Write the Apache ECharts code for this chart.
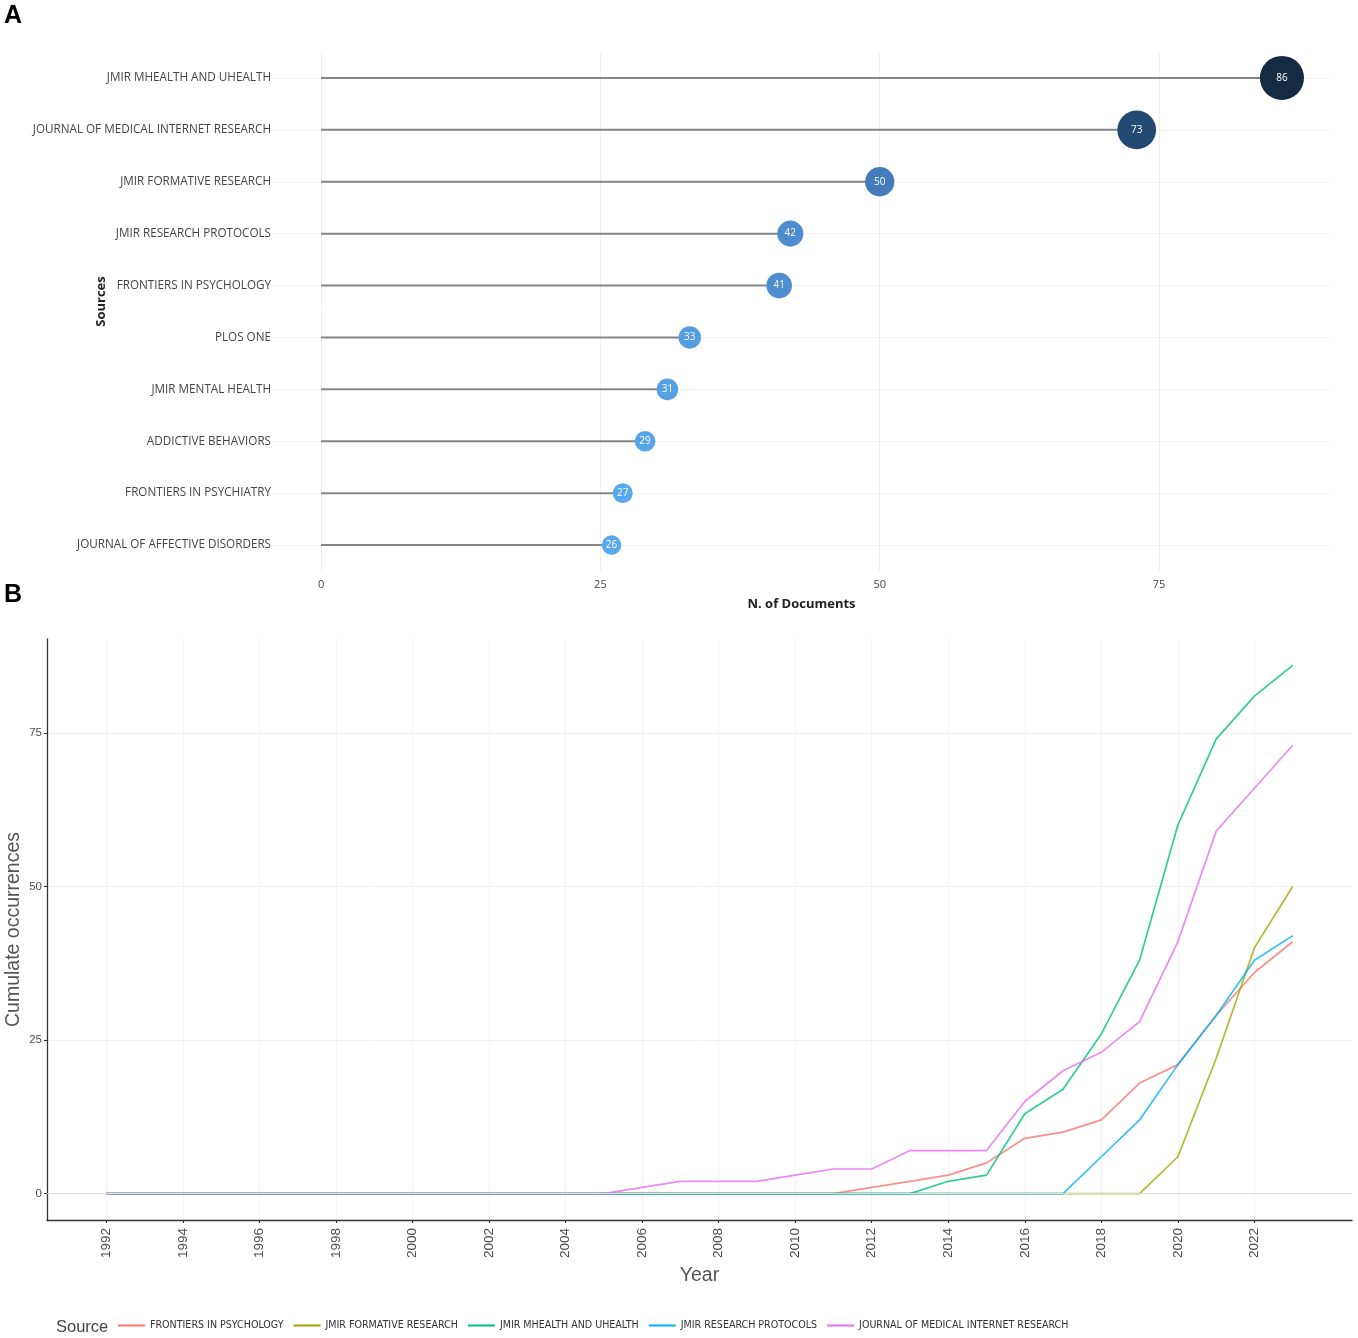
<!DOCTYPE html>
<html lang="en">
<head>
    <meta charset="UTF-8">
    <title>Sources</title>
    <script src="https://cdn.jsdelivr.net/npm/echarts@6/dist/echarts.min.js"></script>
    <style>
        html, body {margin: 0; padding: 0; background: #fff;}
        #main {width: 1358px; height: 1338px;}
    </style>
</head>
<body>
<div id="main"></div>
<script>
    // A: most relevant sources
    const sources = ['JMIR MHEALTH AND UHEALTH', 'JOURNAL OF MEDICAL INTERNET RESEARCH', 'JMIR FORMATIVE RESEARCH',
        'JMIR RESEARCH PROTOCOLS', 'FRONTIERS IN PSYCHOLOGY', 'PLOS ONE', 'JMIR MENTAL HEALTH',
        'ADDICTIVE BEHAVIORS', 'FRONTIERS IN PSYCHIATRY', 'JOURNAL OF AFFECTIVE DISORDERS'];
    const docCounts = [86, 73, 50, 42, 41, 33, 31, 29, 27, 26];
    const docTicks = [0, 25, 50, 75];

    // B: cumulate occurrences per year
    const years = [1992, 1993, 1994, 1995, 1996, 1997, 1998, 1999, 2000, 2001, 2002, 2003, 2004, 2005, 2006, 2007,
        2008, 2009, 2010, 2011, 2012, 2013, 2014, 2015, 2016, 2017, 2018, 2019, 2020, 2021, 2022, 2023];
    const yearTicks = [1992, 1994, 1996, 1998, 2000, 2002, 2004, 2006, 2008, 2010, 2012, 2014, 2016, 2018, 2020, 2022];
    const occTicks = [0, 25, 50, 75];
    const frontiersPsychology = [0, 0, 0, 0, 0, 0, 0, 0, 0, 0, 0, 0, 0, 0, 0, 0, 0, 0, 0, 0, 1, 2, 3, 5, 9, 10, 12, 18, 21, 29, 36, 41];
    const jmirFormative = [0, 0, 0, 0, 0, 0, 0, 0, 0, 0, 0, 0, 0, 0, 0, 0, 0, 0, 0, 0, 0, 0, 0, 0, 0, 0, 0, 0, 6, 22, 40, 50];
    const jmirMhealth = [0, 0, 0, 0, 0, 0, 0, 0, 0, 0, 0, 0, 0, 0, 0, 0, 0, 0, 0, 0, 0, 0, 2, 3, 13, 17, 26, 38, 60, 74, 81, 86];
    const jmirProtocols = [0, 0, 0, 0, 0, 0, 0, 0, 0, 0, 0, 0, 0, 0, 0, 0, 0, 0, 0, 0, 0, 0, 0, 0, 0, 0, 6, 12, 21, 29, 38, 42];
    const jmir = [0, 0, 0, 0, 0, 0, 0, 0, 0, 0, 0, 0, 0, 0, 1, 2, 2, 2, 3, 4, 4, 7, 7, 7, 15, 20, 23, 28, 41, 59, 66, 73];
    const lineNames = ['FRONTIERS IN PSYCHOLOGY', 'JMIR FORMATIVE RESEARCH', 'JMIR MHEALTH AND UHEALTH',
        'JMIR RESEARCH PROTOCOLS', 'JOURNAL OF MEDICAL INTERNET RESEARCH'];
    const lineValues = [frontiersPsychology, jmirFormative, jmirMhealth, jmirProtocols, jmir];
    const lineColors = ['#F8766D', '#A3A500', '#00BF7D', '#00B0F6', '#E76BF3'];

    const chart = echarts.init(document.getElementById('main'), null, {renderer: 'canvas'});

    let lineSeries = [];
    for (let i = 0; i < lineNames.length; i++) {
        lineSeries.push({
            name: lineNames[i],
            type: 'line',
            xAxisIndex: 1,
            yAxisIndex: 1,
            symbol: 'none',
            data: years.map((y, k) => [y, lineValues[i][k]]),
            lineStyle: {color: lineColors[i], width: 1.7, opacity: 0.8},
            itemStyle: {color: lineColors[i]},
            markLine: i === 0 ? {
                silent: true, symbol: 'none', label: {show: false},
                lineStyle: {color: '#dcdcdc', type: 'solid', width: 1.2},
                data: [{yAxis: 0}]
            } : undefined
        });
    }

    const option = {
        animation: false,
        backgroundColor: '#fff',
        textStyle: {fontFamily: 'Liberation Sans'},
        graphic: [
            {type: 'text', left: 4, top: 4, style: {text: 'A', font: 'bold 25px Liberation Sans', fill: '#000'}},
            {type: 'text', left: 4, top: 583, style: {text: 'B', font: 'bold 25px Liberation Sans', fill: '#000'}}
        ],
        title: {
            text: 'Source', left: 51, top: 1314,
            textStyle: {fontSize: 16.5, fontWeight: 'normal', color: '#444', fontFamily: 'Liberation Sans'}
        },
        legend: {
            data: lineNames,
            left: 118, top: 1320, padding: 0,
            icon: 'rect', itemWidth: 27, itemHeight: 2, itemGap: 10,
            textStyle: {fontSize: 10.6, color: '#333', fontFamily: 'DejaVu Sans Condensed'}
        },
        visualMap: {
            show: false, type: 'continuous', seriesIndex: 1, dimension: 0,
            min: 26, max: 86, inRange: {color: ['#5AA9EE', '#4A85C6', '#2C5A8C', '#132B43']}
        },
        grid: [
            {left: 273, right: 28, top: 52, height: 519, outerBoundsMode: 'none'},
            {left: 47, right: 6, top: 639, height: 581, outerBoundsMode: 'none'}
        ],
        xAxis: [
            {
                type: 'value', gridIndex: 0, min: -4.3, max: 90.3,
                name: 'N. of Documents', nameLocation: 'middle', nameGap: 27,
                nameTextStyle: {fontSize: 13, fontWeight: 'bold', color: '#222', fontFamily: 'Open Sans'},
                axisLine: {show: false},
                axisTick: {show: false, customValues: docTicks},
                axisLabel: {customValues: docTicks, color: '#444', fontSize: 11, margin: 8, fontFamily: 'Open Sans'},
                splitLine: {show: true, lineStyle: {color: '#f0f0f0'}}
            },
            {
                type: 'value', gridIndex: 1, min: 1990.45, max: 2024.55,
                name: 'Year', nameLocation: 'middle', nameGap: 46, nameMoveOverlap: false,
                nameTextStyle: {fontSize: 19.5, color: '#555'},
                axisLine: {show: true, onZero: false, lineStyle: {color: '#333', width: 1.3}},
                axisTick: {show: true, length: 3, customValues: yearTicks, lineStyle: {color: '#333'}},
                axisLabel: {
                    customValues: yearTicks, rotate: 90, color: '#4d4d4d', fontSize: 13.5, margin: 8,
                    formatter: v => String(v)
                },
                splitLine: {show: true, lineStyle: {color: '#f3f3f3'}}
            }
        ],
        yAxis: [
            {
                type: 'category', gridIndex: 0, inverse: true, data: sources,
                name: 'Sources', nameLocation: 'middle', nameRotate: 90, nameGap: 165, nameMoveOverlap: false,
                nameTextStyle: {
                    fontSize: 13, fontWeight: 'bold', color: '#222', fontFamily: 'Open Sans',
                    padding: [0, 0, 0, 20]
                },
                axisLine: {show: false, onZero: false},
                axisTick: {show: false, alignWithLabel: true},
                axisLabel: {color: '#444', fontSize: 11.7, margin: 2, fontFamily: 'Open Sans'},
                splitLine: {show: true, alignWithLabel: true, lineStyle: {color: '#f3f3f3'}}
            },
            {
                type: 'value', gridIndex: 1, min: -4.3, max: 90.3,
                name: 'Cumulate occurrences', nameLocation: 'middle', nameRotate: 90, nameGap: 23,
                nameMoveOverlap: false,
                nameTextStyle: {fontSize: 19.5, color: '#555'},
                axisLine: {show: true, onZero: false, lineStyle: {color: '#333', width: 1.3}},
                axisTick: {show: true, length: 3, customValues: occTicks, lineStyle: {color: '#333'}},
                axisLabel: {customValues: occTicks, color: '#4d4d4d', fontSize: 11.5, margin: 5},
                splitLine: {show: true, lineStyle: {color: '#f0f0f0'}}
            }
        ],
        series: [
            {
                // stems
                type: 'bar', xAxisIndex: 0, yAxisIndex: 0, silent: true,
                data: docCounts, barWidth: 2,
                itemStyle: {color: '#858585'}
            },
            {
                type: 'scatter', xAxisIndex: 0, yAxisIndex: 0,
                data: docCounts.map((v, i) => [v, sources[i]]),
                symbolSize: function (d) {
                    return 19.5 + (d[0] - 26) * 0.41;
                },
                itemStyle: {opacity: 1},
                label: {
                    show: true, position: 'inside', color: '#fff', fontSize: 10, fontFamily: 'Open Sans',
                    formatter: p => p.value[0]
                },
                z: 5
            }
        ].concat(lineSeries)
    };
    chart.setOption(option);
</script>
</body>
</html>
